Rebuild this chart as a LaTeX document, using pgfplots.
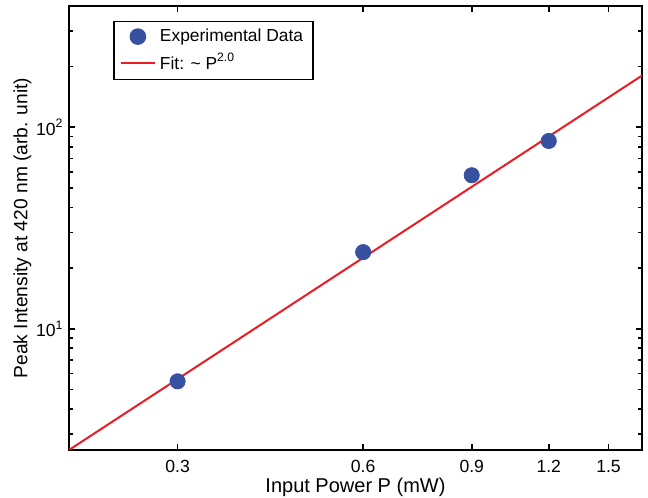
\documentclass[border=0pt]{standalone}
\usepackage{fontspec}
\setmainfont{Liberation Sans}
\usepackage{pgfplots}
\pgfplotsset{compat=1.18}
\usetikzlibrary{calc}
\definecolor{dblue}{RGB}{55,80,160}
\definecolor{fitred}{RGB}{236,28,36}
\begin{document}
\begin{tikzpicture}
\begin{axis}[
 xmode=log, ymode=log,
 scale only axis, width=286.5pt, height=222pt,
 xmin=0.2, xmax=1.7, ymin=2.5, ymax=400,
 xtick={0.3,0.6,0.9,1.2,1.5}, xticklabels={0.3,0.6,0.9,1.2,1.5},
 minor xtick={},
 ytick={10,100}, yticklabels={10\textsuperscript{1},10\textsuperscript{2}},
 minor ytick={3,4,5,6,7,8,9,20,30,40,50,60,70,80,90,200,300},
 tick align=inside, major tick length=3pt, minor tick length=1.8pt,
 axis line style={line width=1pt},
 every tick/.style={black, line width=0.8pt},
 tick label style={font=\fontsize{8.8}{9.5}\selectfont},
 xticklabel style={yshift=-1.5pt},
 yticklabel style={xshift=0.8pt},
 xlabel style={font=\fontsize{10}{11}\selectfont},
 ylabel style={font=\fontsize{9.6}{11}\selectfont},
 xlabel shift=-4pt,
 ylabel shift=-4.5pt,
 xlabel={Input Power P (mW)},
 ylabel={Peak Intensity at 420 nm (arb. unit)},
 legend style={at={(axis description cs:0.077,0.966)}, anchor=north west, draw=black, line width=0.7pt, font=\fontsize{8.7}{10}\selectfont, row sep=0.5pt, inner xsep=3pt, inner ysep=1.5pt},
 legend cell align=left,
]
\addplot[only marks, mark=*, mark size=3.8pt, color=dblue, mark options={draw=dblue, fill=dblue}] coordinates {(0.3,5.48)(0.6,24.0)(0.9,57.8)(1.2,85.5)};
\addlegendentry{Experimental Data}
\addplot[fitred, line width=1pt] coordinates {(0.2,2.5)(1.7,180.6)};
\addlegendentry{Fit: \textasciitilde{} P\textsuperscript{2.0}}
\end{axis}
\pgfresetboundingbox
\path ($(current axis.south west)+(-34.5pt,-24pt)$) rectangle ($(current axis.north east)+(3pt,3pt)$);
\end{tikzpicture}
\end{document}
